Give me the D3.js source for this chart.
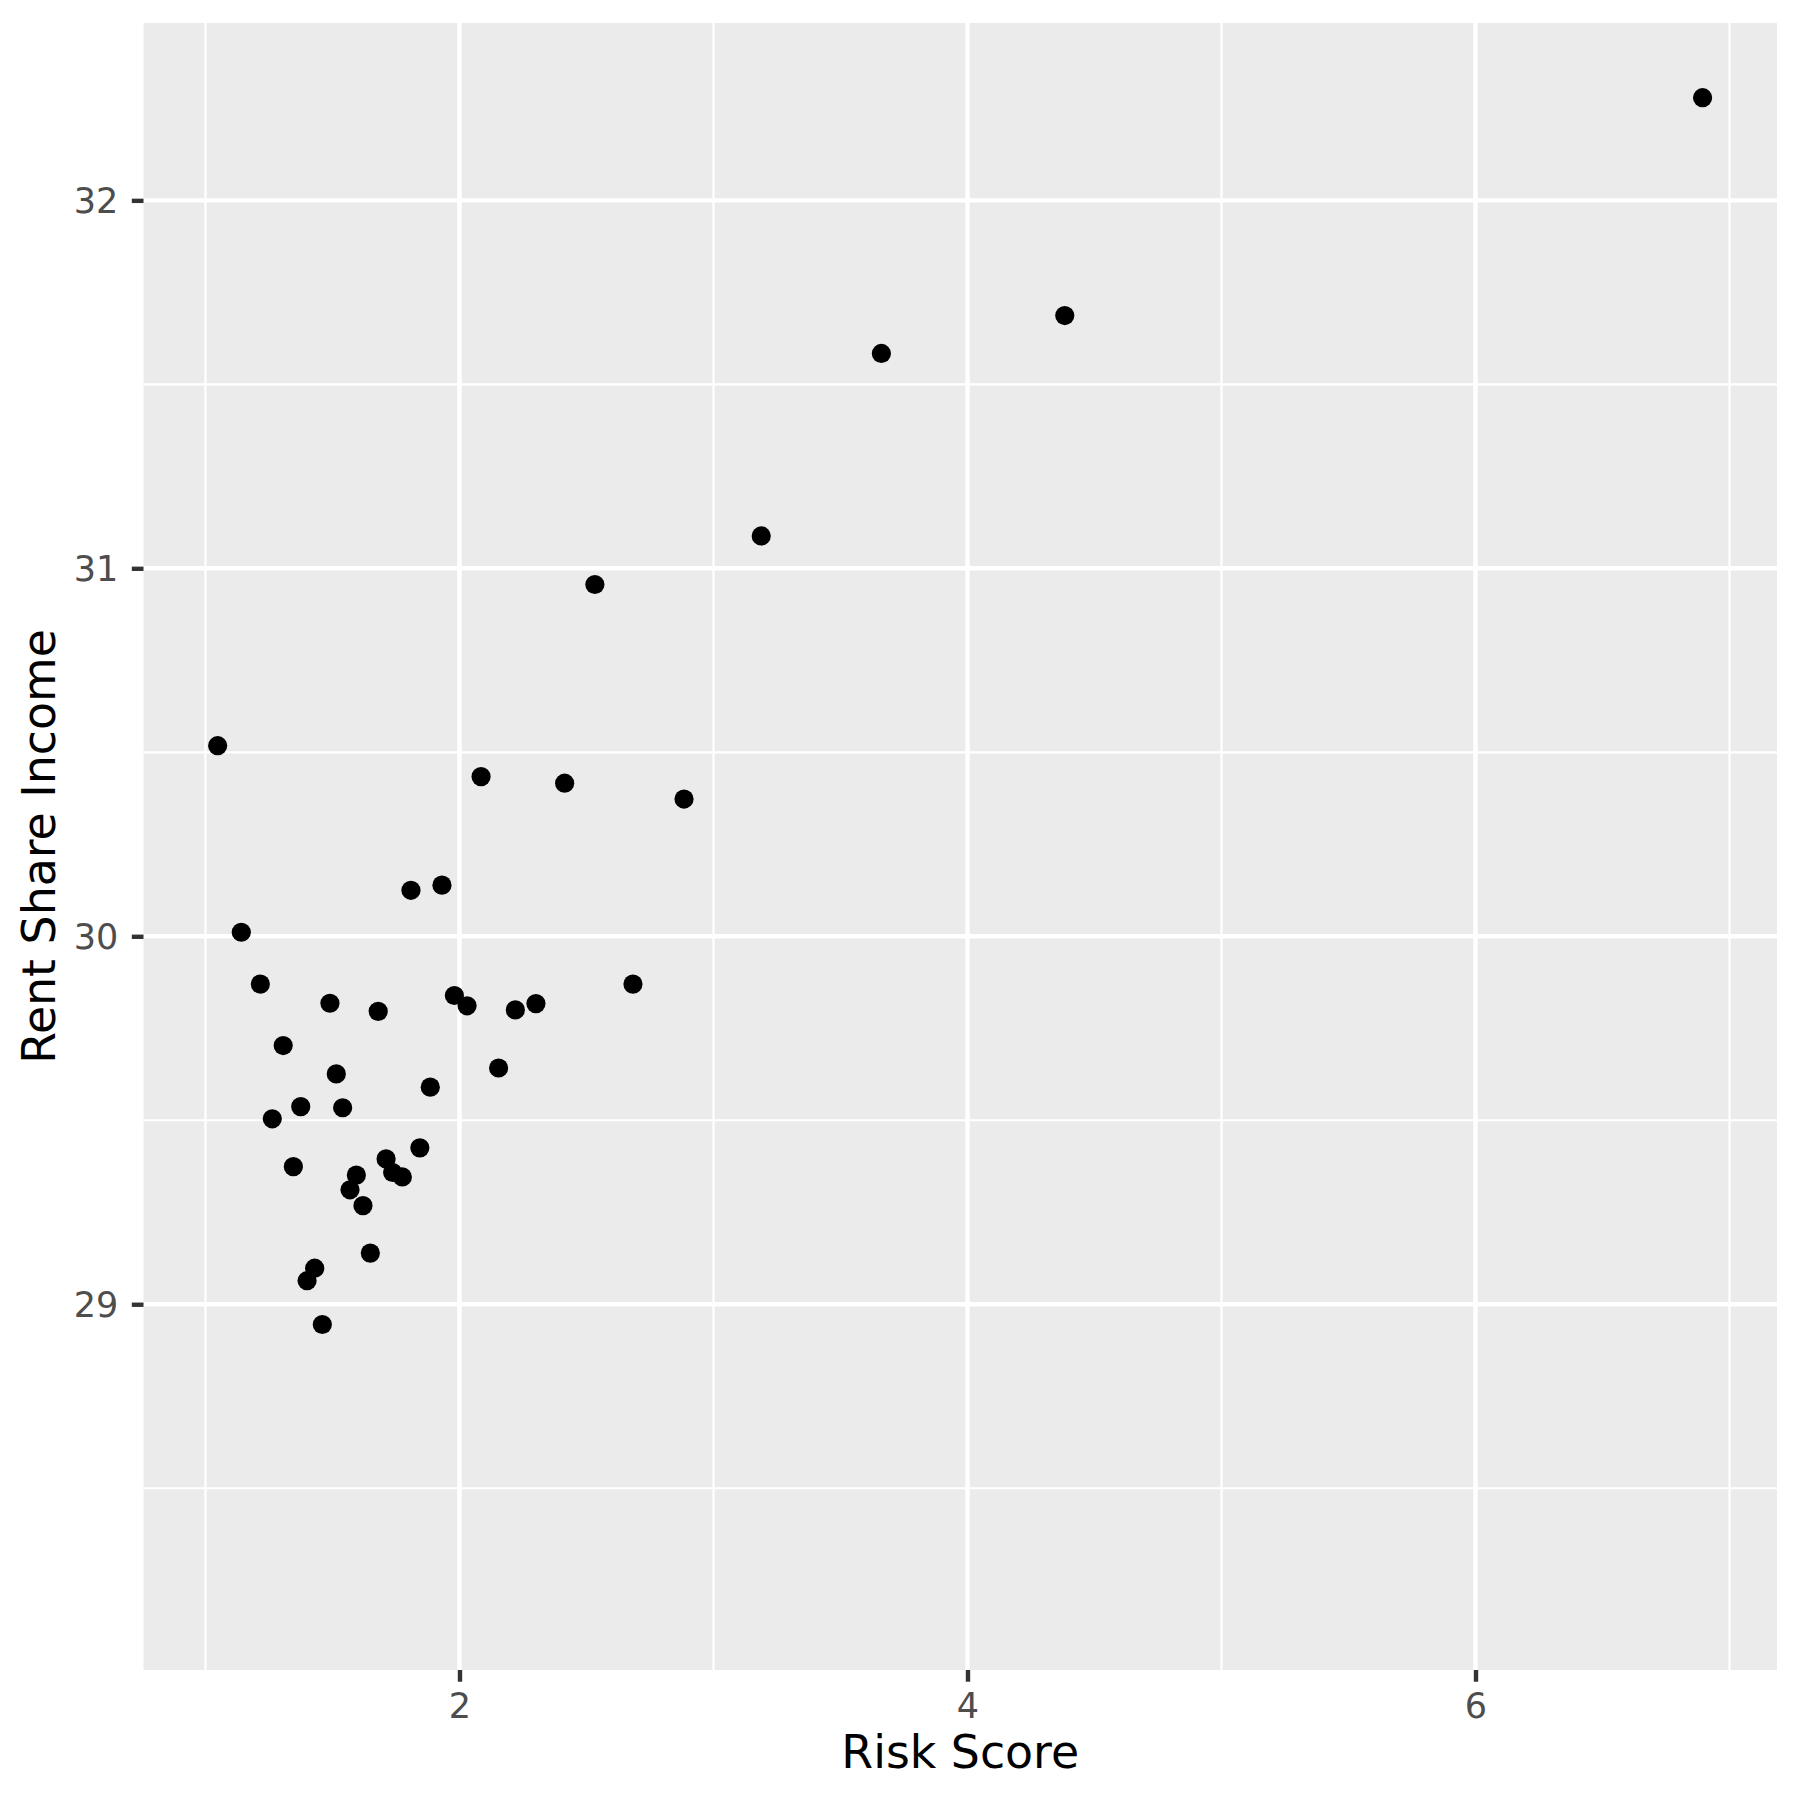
<!DOCTYPE html>
<html>
<head>
<meta charset="utf-8">
<script src="https://cdn.jsdelivr.net/npm/d3@7/dist/d3.min.js"></script>
<style>
  html, body { margin: 0; padding: 0; background: #ffffff; }
  svg { display: block; }
</style>
</head>
<body>
<svg id="chart" width="1800" height="1800"></svg>
<script>
// ---- Data ----
const riskScore = [
  1.048, 1.141, 1.216, 1.306, 1.263, 1.375, 1.346, 1.400, 1.430, 1.460,
  1.490, 1.515, 1.540, 1.569, 1.594, 1.620, 1.649, 1.680, 1.711, 1.737,
  1.775, 1.809, 1.844, 1.885, 1.931, 1.980, 2.030, 2.085, 2.154, 2.220,
  2.301, 2.414, 2.533, 2.683, 2.884, 3.188, 3.661, 4.383, 6.894
];
const rentShare = [
  30.518, 30.011, 29.870, 29.703, 29.504, 29.537, 29.374, 29.064, 29.098, 28.945,
  29.818, 29.626, 29.534, 29.311, 29.351, 29.268, 29.139, 29.796, 29.395, 29.358,
  29.346, 30.125, 29.425, 29.590, 30.139, 29.839, 29.811, 30.434, 29.642, 29.800,
  29.817, 30.416, 30.956, 29.870, 30.373, 31.088, 31.584, 31.687, 32.279
];
const xLimits = [0.756, 7.187];
const yLimits = [28.006, 32.482];
const xMajorTicks = [2, 4, 6];
const xMinorTicks = [1, 3, 5, 7];
const yMajorTicks = [29, 30, 31, 32];
const yMinorTicks = [28.5, 29.5, 30.5, 31.5];
const xTitle = "Risk Score";
const yTitle = "Rent Share Income";

// ---- Layout ----
const panel = { left: 143.5, right: 1777, top: 23, bottom: 1670 };
const svg = d3.select("#chart");

const x = d3.scaleLinear().domain(xLimits).range([panel.left, panel.right]);
const y = d3.scaleLinear().domain(yLimits).range([panel.bottom, panel.top]);

// panel background
svg.append("rect")
  .attr("x", panel.left).attr("y", panel.top)
  .attr("width", panel.right - panel.left)
  .attr("height", panel.bottom - panel.top)
  .attr("fill", "#EBEBEB");

const grid = svg.append("g");
// minor grid
grid.selectAll(".xminor").data(xMinorTicks).enter().append("line")
  .attr("x1", d => x(d)).attr("x2", d => x(d))
  .attr("y1", panel.top).attr("y2", panel.bottom)
  .attr("stroke", "#ffffff").attr("stroke-width", 2.2);
grid.selectAll(".yminor").data(yMinorTicks).enter().append("line")
  .attr("y1", d => y(d)).attr("y2", d => y(d))
  .attr("x1", panel.left).attr("x2", panel.right)
  .attr("stroke", "#ffffff").attr("stroke-width", 2.2);
// major grid
grid.selectAll(".xmajor").data(xMajorTicks).enter().append("line")
  .attr("x1", d => x(d)).attr("x2", d => x(d))
  .attr("y1", panel.top).attr("y2", panel.bottom)
  .attr("stroke", "#ffffff").attr("stroke-width", 4.4);
grid.selectAll(".ymajor").data(yMajorTicks).enter().append("line")
  .attr("y1", d => y(d)).attr("y2", d => y(d))
  .attr("x1", panel.left).attr("x2", panel.right)
  .attr("stroke", "#ffffff").attr("stroke-width", 4.4);

// points
svg.append("g").selectAll("circle")
  .data(riskScore.map((d, i) => [d, rentShare[i]]))
  .enter().append("circle")
  .attr("cx", d => x(d[0]))
  .attr("cy", d => y(d[1]))
  .attr("r", 9.6)
  .attr("fill", "#000000");

// axes
const tickLen = 11.7;
const xAxis = svg.append("g")
  .attr("transform", `translate(0,${panel.bottom})`)
  .call(d3.axisBottom(x).tickValues(xMajorTicks).tickFormat(d3.format("d")).tickSize(tickLen).tickSizeOuter(0));
xAxis.select(".domain").remove();
xAxis.selectAll(".tick line").attr("stroke", "#333333").attr("stroke-width", 4.4);
xAxis.selectAll(".tick text")
  .attr("y", 48.3).attr("dy", null)
  .attr("fill", "#4D4D4D")
  .style("font-family", "'DejaVu Sans', sans-serif")
  .style("font-size", "35px");

const yAxis = svg.append("g")
  .attr("transform", `translate(${panel.left},0)`)
  .call(d3.axisLeft(y).tickValues(yMajorTicks).tickFormat(d3.format("d")).tickSize(tickLen).tickSizeOuter(0));
yAxis.select(".domain").remove();
yAxis.selectAll(".tick line").attr("stroke", "#333333").attr("stroke-width", 4.4);
yAxis.selectAll(".tick text")
  .attr("x", -(panel.left - 118.3)).attr("dy", "0.36em")
  .attr("fill", "#4D4D4D")
  .style("font-family", "'DejaVu Sans', sans-serif")
  .style("font-size", "35px");

// titles
svg.append("text")
  .attr("x", (panel.left + panel.right) / 2)
  .attr("y", 1768.3)
  .attr("text-anchor", "middle")
  .attr("fill", "#000000")
  .style("font-family", "'DejaVu Sans', sans-serif")
  .style("font-size", "45.8px")
  .text(xTitle);

svg.append("text")
  .attr("transform", `translate(55,${(panel.top + panel.bottom) / 2}) rotate(-90)`)
  .attr("text-anchor", "middle")
  .attr("fill", "#000000")
  .style("font-family", "'DejaVu Sans', sans-serif")
  .style("font-size", "45.8px")
  .text(yTitle);
</script>
</body>
</html>
